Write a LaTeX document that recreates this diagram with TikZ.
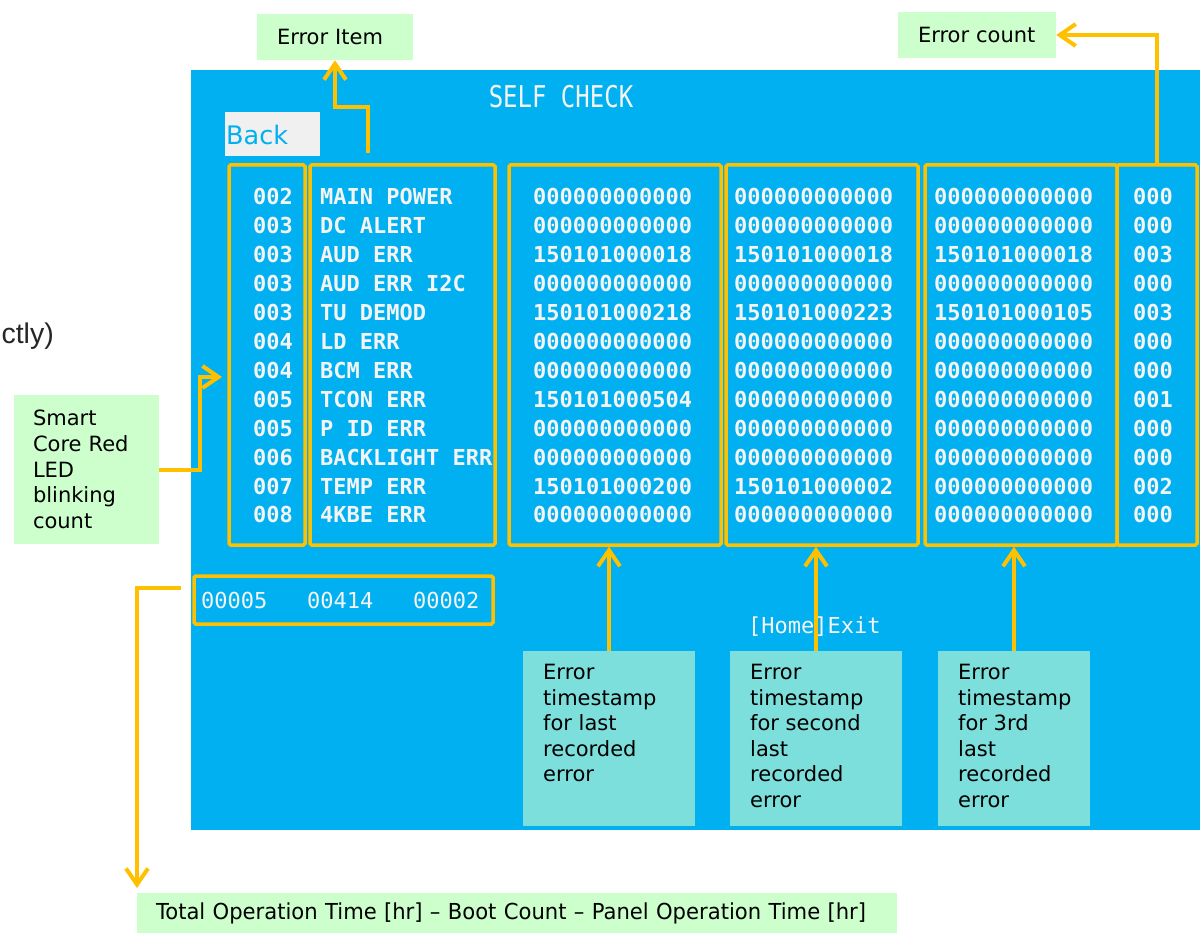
\documentclass[tikz,border=0pt]{standalone}
\usepackage{fontspec}
\setmainfont{DejaVu Sans}
\newfontfamily\mono{DejaVu Sans Mono}
\newfontfamily\condf{DejaVu Sans}[FakeStretch=0.96]
\newfontfamily\arialf{Liberation Sans}
\usetikzlibrary{arrows.meta}
\definecolor{scr}{HTML}{00B0F0}
\definecolor{yel}{HTML}{FFC000}
\definecolor{lgreen}{HTML}{CCFFCC}
\definecolor{teal2}{HTML}{7DDFDB}
\definecolor{txtw}{HTML}{F4F4F4}
\definecolor{backbg}{HTML}{F0F0F0}
\tikzset{
 frame/.style={draw=yel, line width=3.5pt, rounded corners=1.5pt, inner sep=0pt},
 arr/.style={draw=yel, line width=4pt, -{Straight Barb[length=16pt,width=22pt]}},
 glabel/.style={fill=lgreen, inner sep=0pt, align=left, font=\fontsize{21}{25.7}\selectfont, text=black},
 tbox/.style={fill=teal2, inner sep=0pt},
 ttext/.style={anchor=north west, inner sep=0pt, align=left, font=\fontsize{21}{25.5}\selectfont, text=black},
 cell/.style={anchor=base west, inner sep=0pt, text=txtw, font=\mono\bfseries\fontsize{22}{22}\selectfont},
 scrtext/.style={inner sep=0pt, text=txtw, font=\mono\fontsize{22}{22}\selectfont},
}
\begin{document}
\begin{tikzpicture}[x=1pt,y=-1pt]
\useasboundingbox (0,0) rectangle (1200,933);
% screen
\fill[scr] (191,70) rectangle (1200,830);
% fragment text at left
\node[anchor=base east, inner sep=0pt, font=\arialf\fontsize{28.5}{28.5}\selectfont, text=black!85] (frag) at (54,344) {ctly)};
% title and back
\node[inner sep=0pt, text=txtw, font=\mono\fontsize{24}{24}\selectfont] (title) at (561,97) {\scalebox{1}[1.25]{SELF CHECK}};
\node[fill=backbg, minimum width=95pt, minimum height=44pt, inner sep=0pt] (backbox) at (272.5,134) {};
\node[anchor=base west, inner sep=0pt, text=scr, font=\fontsize{25.5}{25.5}\selectfont] (back) at (226,145) {Back};
% frames
\node[frame, minimum width=76pt, minimum height=380pt] (f1) at (267,355) {};
\node[frame, minimum width=185pt, minimum height=380pt] (f2) at (402.5,355) {};
\node[frame, minimum width=212pt, minimum height=380pt] (f3) at (615,355) {};
\node[frame, minimum width=192pt, minimum height=380pt] (f4) at (822,355) {};
\node[frame, minimum width=192pt, minimum height=380pt] (f5) at (1021,355) {};
\node[frame, minimum width=80pt, minimum height=380pt] (f6) at (1157,355) {};
\node[frame, minimum width=299pt, minimum height=48pt] (fb) at (343.5,600) {};
% rows
\foreach \n/\nm/\ca/\cb/\cc/\cd [count=\i from 0] in {
 002/MAIN POWER/000000000000/000000000000/000000000000/000,
 003/DC ALERT/000000000000/000000000000/000000000000/000,
 003/AUD ERR/150101000018/150101000018/150101000018/003,
 003/AUD ERR I2C/000000000000/000000000000/000000000000/000,
 003/TU DEMOD/150101000218/150101000223/150101000105/003,
 004/LD ERR/000000000000/000000000000/000000000000/000,
 004/BCM ERR/000000000000/000000000000/000000000000/000,
 005/TCON ERR/150101000504/000000000000/000000000000/001,
 005/P ID ERR/000000000000/000000000000/000000000000/000,
 006/BACKLIGHT ERR/000000000000/000000000000/000000000000/000,
 007/TEMP ERR/150101000200/150101000002/000000000000/002,
 008/4KBE ERR/000000000000/000000000000/000000000000/000}{
 \pgfmathsetmacro\yy{205+28.9*\i}
 \node[cell] (num\i) at (253,\yy) {\n};
 \node[cell] (nam\i) at (320,\yy) {\nm};
 \node[cell] (ta\i) at (533,\yy) {\ca};
 \node[cell] (tb\i) at (734,\yy) {\cb};
 \node[cell] (tc\i) at (934,\yy) {\cc};
 \node[cell] (ec\i) at (1133,\yy) {\cd};
}
\node[scrtext, anchor=west] (tot) at (201,600) {00005~~~00414~~~00002};
\node[scrtext, anchor=west] (home) at (748,627) {[Home]Exit};
% labels
\node[glabel, minimum width=156pt, minimum height=46pt, text width=116pt] (lerr) at (335,37) {Error Item};
\node[glabel, minimum width=158pt, minimum height=46pt, text width=118pt] (lcnt) at (977,35) {Error count};
\node[glabel, minimum width=145pt, minimum height=149pt, text width=107pt] (lsmart) at (86.5,469.5) {Smart\\Core Red\\LED\\blinking\\count};
\node[glabel, minimum width=760pt, minimum height=40pt, text width=722pt, font=\condf\fontsize{22}{25}\selectfont] (ltot) at (517,913) {Total Operation Time [hr] – Boot Count – Panel Operation Time [hr]};
\node[tbox, minimum width=172pt, minimum height=175pt] (t1) at (609,738.5) {};
\node[tbox, minimum width=172pt, minimum height=175pt] (t2) at (816,738.5) {};
\node[tbox, minimum width=152pt, minimum height=175pt] (t3) at (1014,738.5) {};
\node[ttext] (t1t) at (543,664) {Error\\timestamp\\for last\\recorded\\error};
\node[ttext] (t2t) at (750,664) {Error\\timestamp\\for second\\last\\recorded\\error};
\node[ttext] (t3t) at (958,664) {Error\\timestamp\\for 3rd\\last\\recorded\\error};
% arrows
\coordinate (a1s) at (368,153);
\coordinate (a1m) at (335,107);
\draw[arr] (a1s) |- (a1m) -- (lerr.south);
\draw[arr] (f6.north) |- (lcnt.east);
\coordinate (a3m) at (200,377);
\coordinate (a3t) at (222,377);
\draw[arr] (lsmart.east) -| (a3m) -- (a3t);
\coordinate (a4s) at (181,588);
\coordinate (a4t) at (137,888);
\draw[arr] (a4s) -| (a4t);
\draw[arr] (t1.north) -- (t1.north |- f3.south);
\draw[arr] (t2.north) -- (t2.north |- f4.south);
\draw[arr] (t3.north) -- (t3.north |- f5.south);
\end{tikzpicture}
\end{document}
